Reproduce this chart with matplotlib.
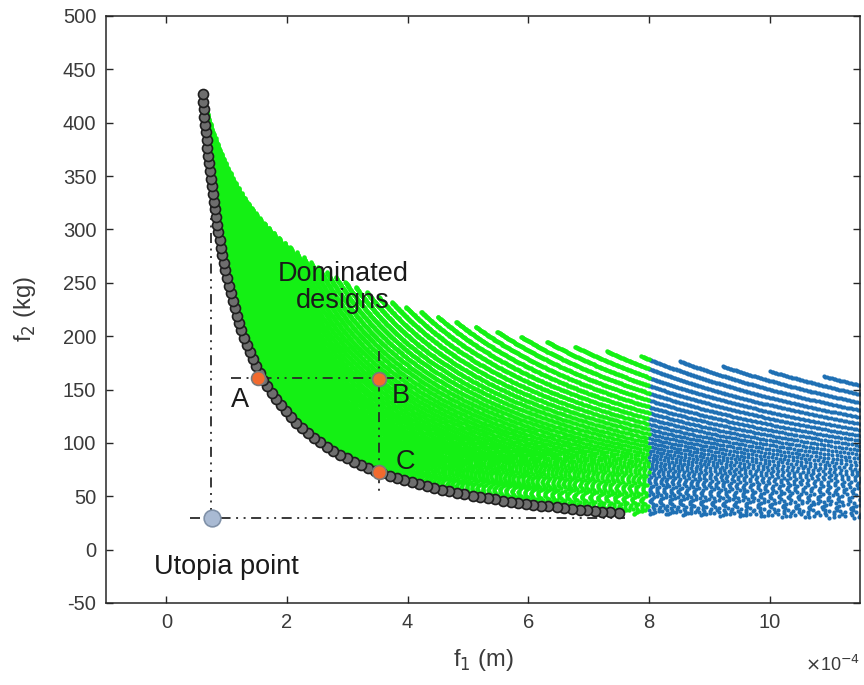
import numpy as np
import matplotlib
matplotlib.use("Agg")
import matplotlib.pyplot as plt

plt.rcParams["font.family"] = ["Liberation Sans", "DejaVu Sans"]
plt.rcParams["lines.scale_dashes"] = False
plt.rcParams["axes.unicode_minus"] = False

# beam design grid (width b, height h in mm) swept for the design space
B_MM = np.arange(4.0, 50.001, 0.125)
H_MM = np.arange(30.0, 92.001, 1.0)
B_MAX, H_MAX = 50.0, 92.0
F1_TOP = 0.60      # deflection at b=B_MAX, h=H_MAX  (x1e-4 m)
F2_TOP = 427.0     # mass at b=B_MAX, h=H_MAX  (kg)
F1_LIMIT = 8.0     # designs with larger deflection drawn blue
N_PARETO = 90

# marked designs
POINT_NAMES = ["A", "B", "C"]
POINT_F1 = [1.52, 3.53, 3.53]
POINT_F2 = [161.0, 160.0, 73.0]
UTOPIA_F1, UTOPIA_F2 = 0.75, 30.0

# dash-dot guide lines: (x0, x1, y0, y1)
GUIDES = [
    (0.74, 0.74, 30.0, 345.0),
    (0.40, 7.60, 30.0, 30.0),
    (1.07, 4.00, 161.0, 161.0),
    (3.53, 3.53, 186.0, 50.0),
]


def objectives(b, h):
    f1 = F1_TOP * (B_MAX / b) * (H_MAX / h) ** 3
    f2 = F2_TOP * (b / B_MAX) * (h / H_MAX)
    return f1, f2


bb, hh = np.meshgrid(B_MM, H_MM)
f1, f2 = objectives(bb.ravel(), hh.ravel())
ok = f1 <= F1_LIMIT

# pareto set: h = H_MAX, spread evenly along the curve on screen
b_line = np.linspace(B_MM[0], B_MAX, 4000)
p1, p2 = objectives(b_line, np.full_like(b_line, H_MAX))
arc = np.concatenate([[0], np.cumsum(np.hypot(np.diff(p1) * 60.3, np.diff(p2) * 1.067))])
idx = np.searchsorted(arc, np.linspace(0, arc[-1], N_PARETO))
idx = np.clip(idx, 0, len(arc) - 1)

fig = plt.figure(figsize=(8.64, 6.85), dpi=100)
ax = fig.add_axes([106 / 864, 1 - 603 / 685, 754 / 864, 587 / 685])

ax.plot(f1[~ok], f2[~ok], ls="none", marker="o", ms=3.0, mew=0,
        color="#1f70b4", zorder=1)
ax.plot(f1[ok], f2[ok], ls="none", marker="o", ms=3.2, mew=0,
        color="#14f014", zorder=2)

for x0, x1, y0, y1 in GUIDES:
    ln, = ax.plot([x0, x1], [y0, y1], color="#2a2a2a", lw=1.3, zorder=3)
    ln.set_dashes([7.2, 4.0, 1.4, 4.0, 1.4, 4.0])

ax.plot(p1[idx], p2[idx], ls="none", marker="o", ms=7.2, mfc="#6e6e6e",
        mec="#1e1e1e", mew=1.2, zorder=4)
ax.plot(POINT_F1, POINT_F2, ls="none", marker="o", ms=10, mfc="#f26a2e",
        mec="#7a7a7a", mew=1.2, zorder=5)
ax.plot([UTOPIA_F1], [UTOPIA_F2], ls="none", marker="o", ms=12,
        mfc="#a9bad3", mec="#8091a8", mew=1.2, zorder=5)

txt = dict(fontsize=19.5, color="#1a1a1a", ha="center", va="center", zorder=6)
ax.text(1.23, 140, POINT_NAMES[0], **txt)
ax.text(3.88, 144, POINT_NAMES[1], **txt)
ax.text(3.96, 82, POINT_NAMES[2], **txt)
ax.text(2.93, 246, "Dominated\ndesigns", linespacing=1.05, **txt)
ax.text(0.99, -16, "Utopia point", **txt)

ax.set_xlim(-1, 11.5)
ax.set_ylim(-50, 500)
ax.set_xticks(np.arange(0, 11, 2))
ax.set_yticks(np.arange(-50, 501, 50))
ax.tick_params(direction="in", length=5, width=1, top=True, right=True,
               labelsize=14.5, labelcolor="#3a3a3a", color="#262626", pad=7)
for sp in ax.spines.values():
    sp.set_color("#262626")
    sp.set_linewidth(1.1)

ax.set_xlabel("f$_1$ (m)", fontsize=17, color="#3a3a3a", labelpad=11)
ax.set_ylabel("f$_2$ (kg)", fontsize=17, color="#3a3a3a", labelpad=18)
fig.text(0.995, 0.015, r"$\times$10$^{-4}$", fontsize=13, color="#3a3a3a",
         ha="right", va="bottom")

fig.savefig("out.png", dpi=100)
